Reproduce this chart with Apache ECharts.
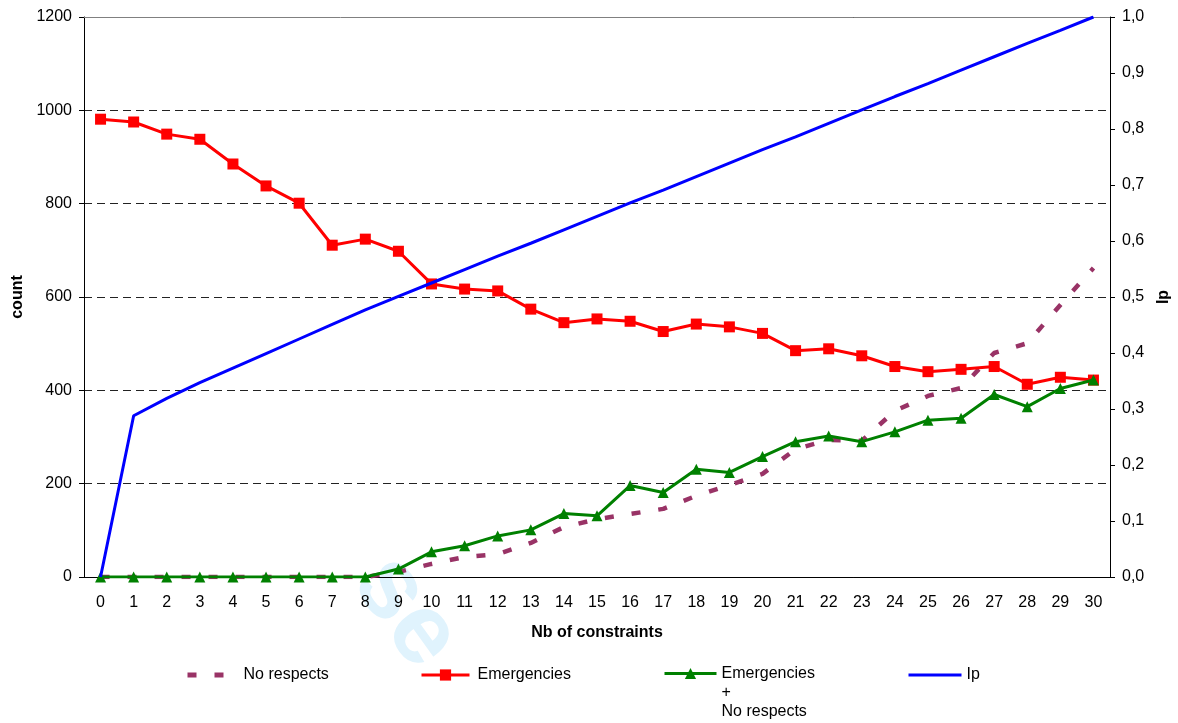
<!DOCTYPE html>
<html>
<head>
<meta charset="utf-8">
<script src="https://cdn.jsdelivr.net/npm/echarts@6/dist/echarts.min.js"></script>
<style>
  html, body { margin: 0; padding: 0; background: #fff; }
  #chart { width: 1178px; height: 723px; }
</style>
</head>
<body>
<div id="chart"></div>
<script>
// x categories (Nb of constraints)
var categories = ['0', '1', '2', '3', '4', '5', '6', '7', '8', '9', '10', '11', '12', '13', '14', '15',
    '16', '17', '18', '19', '20', '21', '22', '23', '24', '25', '26', '27', '28', '29', '30'];

// count (left axis)
var noRespects = [0, 0, 0, 0, 0, 0, 0, 0, 0, 11, 28, 43, 49, 73, 107, 124,
    135, 146, 174, 197, 221, 274, 294, 292, 356, 388, 405, 480, 501, 583, 662];
var emergencies = [981, 975, 949, 938, 885, 838, 801, 711, 724, 698, 628, 617, 613, 574, 545, 553,
    548, 526, 542, 536, 522, 485, 489, 474, 451, 440, 445, 451, 413, 428, 422];
var emergNoResp = [0, 0, 0, 0, 0, 0, 0, 0, 0, 17, 54, 67, 88, 101, 136, 131,
    196, 181, 231, 224, 258, 290, 302, 290, 311, 336, 340, 391, 365, 404, 422];

// Ip (right axis)
var ip = [0, 0.288, 0.319, 0.347, 0.373, 0.399, 0.425, 0.451, 0.477, 0.501, 0.525, 0.549, 0.573, 0.596, 0.620, 0.644,
    0.668, 0.691, 0.715, 0.739, 0.763, 0.786, 0.810, 0.834, 0.858, 0.881, 0.905, 0.929, 0.953, 0.976, 1.0];

var FONT = 'Liberation Sans, Arial, sans-serif';
var NAME_GREEN = 'Emergencies\n+\nNo respects';

var chart = echarts.init(document.getElementById('chart'));

function legendFor(name, left, top, w, opts) {
    opts = opts || {};
    var lg = {
        data: [name],
        left: left,
        top: top,
        padding: 0,
        itemWidth: w,
        itemHeight: 14,
        selectedMode: false,
        lineStyle: { width: opts.lineWidth || 3 },
        textStyle: { fontFamily: FONT, fontSize: 16, color: '#000' }
    };
    if (opts.noSymbol) lg.itemStyle = { color: 'transparent', borderWidth: 0, opacity: 0 };
    if (opts.text) lg.textStyle = Object.assign(lg.textStyle, opts.text);
    if (opts.formatter) lg.formatter = opts.formatter;
    return lg;
}

chart.setOption({
    animation: false,
    backgroundColor: '#fff',
    textStyle: { fontFamily: FONT },
    grid: { left: 84, right: 68, top: 17, bottom: 146, outerBoundsMode: 'none', containLabel: false },

    //水印
    graphic: [{
        type: 'text',
        z: -10,
        x: 406,
        y: 612,
        rotation: -0.95,
        style: {
            text: 'se',
            fill: '#e0f3fd',
            font: 'bold 100px ' + FONT,
            align: 'center',
            verticalAlign: 'middle'
        }
    }],

    legend: [
        legendFor('No respects', 185, 667, 51, { noSymbol: true, lineWidth: 5 }),
        legendFor('Emergencies', 420, 667, 48, { text: { padding: [0, 0, 0, 3] } }),
        legendFor(NAME_GREEN, 663, 626, 52, {
            text: { lineHeight: 19 },
            formatter: function (n) { return '\n\n' + n; }
        }),
        legendFor('Ip', 907, 667, 53, { noSymbol: true })
    ],

    xAxis: {
        type: 'category',
        data: categories,
        boundaryGap: true,
        name: 'Nb of constraints',
        nameLocation: 'middle',
        nameGap: 48,
        nameTextStyle: { fontFamily: FONT, fontSize: 16, fontWeight: 'bold', color: '#000' },
        axisLine: { lineStyle: { color: '#000', width: 1 } },
        axisTick: { interval: 0, length: 5, lineStyle: { color: '#000' } },
        axisLabel: { interval: 0, margin: 18, fontSize: 16, color: '#000', fontFamily: FONT },
        splitLine: { show: false }
    },

    yAxis: [{
        type: 'value',
        min: 0,
        max: 1200,
        interval: 200,
        name: 'count',
        nameLocation: 'middle',
        nameRotate: 90,
        nameGap: 56,
        nameTextStyle: { fontFamily: FONT, fontSize: 16, fontWeight: 'bold', color: '#000' },
        axisLine: { show: true, lineStyle: { color: '#000', width: 1 } },
        axisTick: { show: true, length: 5, lineStyle: { color: '#000' } },
        axisLabel: {
            margin: 12, fontSize: 16, color: '#000', fontFamily: FONT,
            formatter: function (v) { return String(v); }
        },
        splitLine: { show: true, lineStyle: { color: '#222', width: 1, type: [8, 5] } }
    }, {
        type: 'value',
        min: 0,
        max: 1,
        interval: 0.1,
        position: 'right',
        name: 'Ip',
        nameLocation: 'middle',
        nameRotate: 90,
        nameGap: 46,
        nameTextStyle: { fontFamily: FONT, fontSize: 16, fontWeight: 'bold', color: '#000' },
        axisLine: { show: true, lineStyle: { color: '#000', width: 1 } },
        axisTick: { show: true, length: 5, lineStyle: { color: '#000' } },
        axisLabel: {
            margin: 12, fontSize: 16, color: '#000', fontFamily: FONT,
            formatter: function (v) { return v.toFixed(1).replace('.', ','); }
        },
        splitLine: { show: false }
    }],

    series: [{
        name: 'No respects',
        type: 'line',
        data: noRespects,
        symbol: 'none',
        itemStyle: { color: '#993366' },
        lineStyle: { color: '#993366', width: 4.5, type: [9, 18], cap: 'butt' },
        z: 2
    }, {
        name: 'Emergencies',
        type: 'line',
        data: emergencies,
        symbol: 'rect',
        symbolSize: 11,
        itemStyle: { color: '#ff0000' },
        lineStyle: { color: '#ff0000', width: 3 },
        z: 3,
        // top border of plot area
        markLine: {
            silent: true,
            symbol: 'none',
            label: { show: false },
            lineStyle: { color: '#808080', width: 1, type: 'solid' },
            data: [{ yAxis: 1200 }]
        }
    }, {
        name: NAME_GREEN,
        type: 'line',
        data: emergNoResp,
        symbol: 'triangle',
        symbolSize: 11,
        itemStyle: { color: '#008000' },
        lineStyle: { color: '#008000', width: 3 },
        z: 4
    }, {
        name: 'Ip',
        type: 'line',
        yAxisIndex: 1,
        data: ip,
        symbol: 'none',
        itemStyle: { color: '#0000ff' },
        lineStyle: { color: '#0000ff', width: 3 },
        z: 5
    }]
});
</script>
</body>
</html>
